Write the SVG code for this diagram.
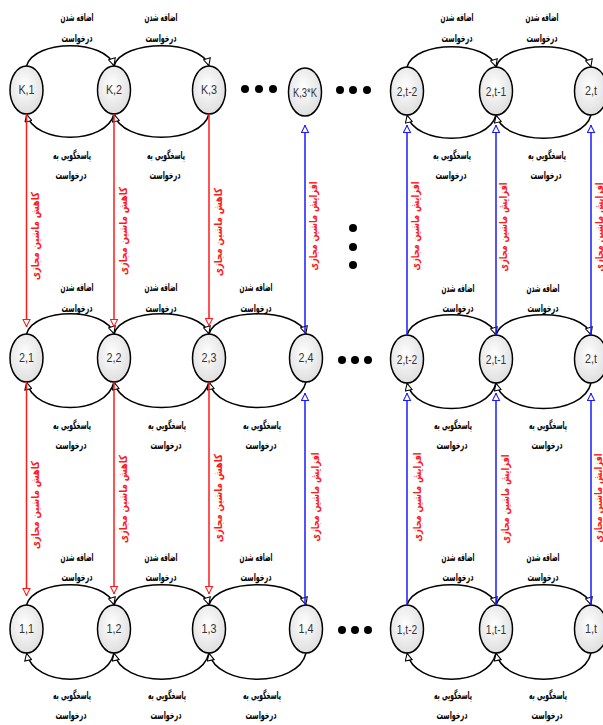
<svg xmlns="http://www.w3.org/2000/svg" width="603" height="725" viewBox="0 0 603 725">
<defs>
<radialGradient id="ng" cx="0.45" cy="0.4" r="0.65">
<stop offset="0" stop-color="#ffffff"/>
<stop offset="1" stop-color="#dcdcdc"/>
</radialGradient>
<marker id="ak" viewBox="0 0 10 10" refX="10" refY="5" markerWidth="10" markerHeight="8" orient="auto" markerUnits="userSpaceOnUse">
<path d="M0.6,0.6 L9.4,5 L0.6,9.4 z" fill="#fff" stroke="#000" stroke-width="1.3"/>
</marker>
<marker id="ar" viewBox="0 0 10 10" refX="10" refY="5" markerWidth="8" markerHeight="9" orient="auto" markerUnits="userSpaceOnUse">
<path d="M0.6,0.6 L9.4,5 L0.6,9.4 z" fill="#fff" stroke="#ff1a1a" stroke-width="1.3"/>
</marker>
<marker id="ab" viewBox="0 0 10 10" refX="10" refY="5" markerWidth="8" markerHeight="9" orient="auto" markerUnits="userSpaceOnUse">
<path d="M0.6,0.6 L9.4,5 L0.6,9.4 z" fill="#fff" stroke="#1a1aff" stroke-width="1.3"/>
</marker>
</defs>
<style>
.node ellipse{fill:url(#ng);stroke:#000;stroke-width:1.5}
.node text{font-family:"Liberation Sans",Arial,sans-serif;font-size:13.5px;fill:#333;text-anchor:middle;dominant-baseline:central}
.arc{fill:none;stroke:#000;stroke-width:1.5;marker-end:url(#ak)}
.red{fill:none;stroke:#ff1a1a;stroke-width:1.5;marker-end:url(#ar)}
.blue{fill:none;stroke:#1a1aff;stroke-width:1.5;marker-end:url(#ab)}
.lbl{font-family:"DejaVu Sans",sans-serif;font-weight:bold;font-size:11px;fill:#000;text-anchor:middle;dominant-baseline:central}
.vl{font-family:"DejaVu Sans",sans-serif;font-weight:bold;font-size:11px;fill:#ff1a1a;text-anchor:middle;dominant-baseline:central}
.dot{fill:#000}
</style>

<g id="nodes">
<g id="n-K1" class="node"><ellipse cx="26.5" cy="90" rx="16.5" ry="24"/><text transform="translate(26.5,90) scale(0.8,1)">K,1</text></g>
<g id="n-K2" class="node"><ellipse cx="114" cy="90" rx="16.5" ry="24"/><text transform="translate(114,90) scale(0.8,1)">K,2</text></g>
<g id="n-K3" class="node"><ellipse cx="209" cy="90" rx="16.5" ry="24"/><text transform="translate(209,90) scale(0.8,1)">K,3</text></g>
<g id="n-K3K" class="node"><ellipse cx="305" cy="92" rx="16.5" ry="24"/><text transform="translate(305,92) scale(0.7,1)">K,3*K</text></g>
<g id="n-top-t2" class="node"><ellipse cx="407" cy="91" rx="16.5" ry="24"/><text transform="translate(407,91) scale(0.76,1)">2,t-2</text></g>
<g id="n-top-t1" class="node"><ellipse cx="496" cy="91" rx="16.5" ry="24"/><text transform="translate(496,91) scale(0.76,1)">2,t-1</text></g>
<g id="n-top-t" class="node"><ellipse cx="591" cy="91" rx="16.5" ry="24"/><text transform="translate(591,91) scale(0.8,1)">2,t</text></g>

<g id="n-21" class="node"><ellipse cx="26.5" cy="358" rx="16.5" ry="24"/><text transform="translate(26.5,358) scale(0.8,1)">2,1</text></g>
<g id="n-22" class="node"><ellipse cx="114" cy="358" rx="16.5" ry="24"/><text transform="translate(114,358) scale(0.8,1)">2,2</text></g>
<g id="n-23" class="node"><ellipse cx="209" cy="358" rx="16.5" ry="24"/><text transform="translate(209,358) scale(0.8,1)">2,3</text></g>
<g id="n-24" class="node"><ellipse cx="306" cy="358" rx="16.5" ry="24"/><text transform="translate(306,358) scale(0.8,1)">2,4</text></g>
<g id="n-2t2" class="node"><ellipse cx="407" cy="359" rx="16.5" ry="24"/><text transform="translate(407,359) scale(0.76,1)">2,t-2</text></g>
<g id="n-2t1" class="node"><ellipse cx="496" cy="359" rx="16.5" ry="24"/><text transform="translate(496,359) scale(0.76,1)">2,t-1</text></g>
<g id="n-2t" class="node"><ellipse cx="591" cy="359" rx="16.5" ry="24"/><text transform="translate(591,359) scale(0.8,1)">2,t</text></g>

<g id="n-11" class="node"><ellipse cx="26.5" cy="629" rx="16.5" ry="24"/><text transform="translate(26.5,629) scale(0.8,1)">1,1</text></g>
<g id="n-12" class="node"><ellipse cx="114" cy="629" rx="16.5" ry="24"/><text transform="translate(114,629) scale(0.8,1)">1,2</text></g>
<g id="n-13" class="node"><ellipse cx="209" cy="629" rx="16.5" ry="24"/><text transform="translate(209,629) scale(0.8,1)">1,3</text></g>
<g id="n-14" class="node"><ellipse cx="306" cy="629" rx="16.5" ry="24"/><text transform="translate(306,629) scale(0.8,1)">1,4</text></g>
<g id="n-1t2" class="node"><ellipse cx="407" cy="629" rx="16.5" ry="24"/><text transform="translate(407,629) scale(0.76,1)">1,t-2</text></g>
<g id="n-1t1" class="node"><ellipse cx="496" cy="629" rx="16.5" ry="24"/><text transform="translate(496,629) scale(0.76,1)">1,t-1</text></g>
<g id="n-1t" class="node"><ellipse cx="591" cy="629" rx="16.5" ry="24"/><text transform="translate(591,629) scale(0.8,1)">1,t</text></g>
</g>

<g id="ellipsis">
<circle class="dot" cx="245" cy="89" r="4"/><circle class="dot" cx="259" cy="89" r="4"/><circle class="dot" cx="273" cy="89" r="4"/>
<circle class="dot" cx="340" cy="90" r="4"/><circle class="dot" cx="353" cy="90" r="4"/><circle class="dot" cx="367" cy="90" r="4"/>
<circle class="dot" cx="353" cy="228" r="4"/><circle class="dot" cx="353" cy="247" r="4"/><circle class="dot" cx="353" cy="265" r="4"/>
<circle class="dot" cx="342" cy="360" r="4"/><circle class="dot" cx="355" cy="360" r="4"/><circle class="dot" cx="368" cy="360" r="4"/>
<circle class="dot" cx="342" cy="630" r="4"/><circle class="dot" cx="355" cy="630" r="4"/><circle class="dot" cx="368" cy="630" r="4"/>
</g>

<g id="connectors">
<path class="arc" d="M26.5,66 C34.5,39 106,39 114,66"/>
<path class="arc" d="M114,66 C122,39 201,39 209,66"/>
<path class="arc" d="M114,114 C106,145 34.5,145 26.5,114"/>
<path class="arc" d="M209,114 C201,145 122,145 114,114"/>
<path class="arc" d="M407,67 C415,40 488,40 496,67"/>
<path class="arc" d="M496,67 C504,40 583,40 591,67"/>
<path class="arc" d="M496,115 C488,146 415,146 407,115"/>
<path class="arc" d="M591,115 C583,146 504,146 496,115"/>
<path class="arc" d="M26.5,334 C34.5,307 106,307 114,334"/>
<path class="arc" d="M114,334 C122,307 201,307 209,334"/>
<path class="arc" d="M209,334 C217,307 298,307 306,334"/>
<path class="arc" d="M114,382 C106,416 34.5,416 26.5,382"/>
<path class="arc" d="M209,382 C201,416 122,416 114,382"/>
<path class="arc" d="M306,382 C298,416 217,416 209,382"/>
<path class="arc" d="M407,335 C415,308 488,308 496,335"/>
<path class="arc" d="M496,335 C504,308 583,308 591,335"/>
<path class="arc" d="M496,383 C488,417 415,417 407,383"/>
<path class="arc" d="M591,383 C583,417 504,417 496,383"/>
<path class="arc" d="M26.5,605 C34.5,578 106,578 114,605"/>
<path class="arc" d="M114,605 C122,578 201,578 209,605"/>
<path class="arc" d="M209,605 C217,578 298,578 306,605"/>
<path class="arc" d="M114,653 C106,688 34.5,688 26.5,653"/>
<path class="arc" d="M209,653 C201,688 122,688 114,653"/>
<path class="arc" d="M306,653 C298,688 217,688 209,653"/>
<path class="arc" d="M407,605 C415,578 488,578 496,605"/>
<path class="arc" d="M496,605 C504,578 583,578 591,605"/>
<path class="arc" d="M496,653 C488,688 415,688 407,653"/>
<path class="arc" d="M591,653 C583,688 504,688 496,653"/>
<path class="red" d="M26.5,114 L26.5,327"/>
<path class="red" d="M114,114 L114,327"/>
<path class="red" d="M209,114 L209,326"/>
<path class="red" d="M26.5,382 L26.5,596"/>
<path class="red" d="M114,382 L114,594"/>
<path class="red" d="M209,382 L209,594"/>
<path class="blue" d="M305,334 L305,125"/>
<path class="blue" d="M407,335 L407,125"/>
<path class="blue" d="M496,335 L496,125"/>
<path class="blue" d="M591,335 L591,125"/>
<path class="blue" d="M305,605 L305,393"/>
<path class="blue" d="M407,605 L407,393"/>
<path class="blue" d="M496,605 L496,393"/>
<path class="blue" d="M591,605 L591,393"/>
</g>

<g id="edge-labels">
<text class="lbl" x="77" y="17" textLength="33" lengthAdjust="spacingAndGlyphs">اضافه شدن</text><text class="lbl" x="77" y="38" textLength="31" lengthAdjust="spacingAndGlyphs">درخواست</text>
<text class="lbl" x="161" y="17" textLength="33" lengthAdjust="spacingAndGlyphs">اضافه شدن</text><text class="lbl" x="161" y="38" textLength="31" lengthAdjust="spacingAndGlyphs">درخواست</text>
<text class="lbl" x="457" y="17" textLength="33" lengthAdjust="spacingAndGlyphs">اضافه شدن</text><text class="lbl" x="457" y="38" textLength="31" lengthAdjust="spacingAndGlyphs">درخواست</text>
<text class="lbl" x="542" y="17" textLength="33" lengthAdjust="spacingAndGlyphs">اضافه شدن</text><text class="lbl" x="542" y="38" textLength="31" lengthAdjust="spacingAndGlyphs">درخواست</text>
<text class="lbl" x="72" y="155" textLength="38" lengthAdjust="spacingAndGlyphs">پاسخگویی به</text><text class="lbl" x="71" y="175" textLength="31" lengthAdjust="spacingAndGlyphs">درخواست</text>
<text class="lbl" x="166" y="155" textLength="38" lengthAdjust="spacingAndGlyphs">پاسخگویی به</text><text class="lbl" x="165" y="175" textLength="31" lengthAdjust="spacingAndGlyphs">درخواست</text>
<text class="lbl" x="452" y="155" textLength="38" lengthAdjust="spacingAndGlyphs">پاسخگویی به</text><text class="lbl" x="451" y="175" textLength="31" lengthAdjust="spacingAndGlyphs">درخواست</text>
<text class="lbl" x="547" y="155" textLength="38" lengthAdjust="spacingAndGlyphs">پاسخگویی به</text><text class="lbl" x="546" y="175" textLength="31" lengthAdjust="spacingAndGlyphs">درخواست</text>
<text class="lbl" x="77" y="287" textLength="33" lengthAdjust="spacingAndGlyphs">اضافه شدن</text><text class="lbl" x="77" y="308" textLength="31" lengthAdjust="spacingAndGlyphs">درخواست</text>
<text class="lbl" x="161" y="287" textLength="33" lengthAdjust="spacingAndGlyphs">اضافه شدن</text><text class="lbl" x="161" y="308" textLength="31" lengthAdjust="spacingAndGlyphs">درخواست</text>
<text class="lbl" x="256" y="287" textLength="33" lengthAdjust="spacingAndGlyphs">اضافه شدن</text><text class="lbl" x="256" y="308" textLength="31" lengthAdjust="spacingAndGlyphs">درخواست</text>
<text class="lbl" x="458" y="288" textLength="33" lengthAdjust="spacingAndGlyphs">اضافه شدن</text><text class="lbl" x="458" y="308" textLength="31" lengthAdjust="spacingAndGlyphs">درخواست</text>
<text class="lbl" x="543" y="288" textLength="33" lengthAdjust="spacingAndGlyphs">اضافه شدن</text><text class="lbl" x="543" y="308" textLength="31" lengthAdjust="spacingAndGlyphs">درخواست</text>
<text class="lbl" x="72" y="425" textLength="38" lengthAdjust="spacingAndGlyphs">پاسخگویی به</text><text class="lbl" x="71" y="445" textLength="31" lengthAdjust="spacingAndGlyphs">درخواست</text>
<text class="lbl" x="167" y="425" textLength="38" lengthAdjust="spacingAndGlyphs">پاسخگویی به</text><text class="lbl" x="166" y="445" textLength="31" lengthAdjust="spacingAndGlyphs">درخواست</text>
<text class="lbl" x="262" y="425" textLength="38" lengthAdjust="spacingAndGlyphs">پاسخگویی به</text><text class="lbl" x="261" y="445" textLength="31" lengthAdjust="spacingAndGlyphs">درخواست</text>
<text class="lbl" x="453" y="425" textLength="38" lengthAdjust="spacingAndGlyphs">پاسخگویی به</text><text class="lbl" x="452" y="445" textLength="31" lengthAdjust="spacingAndGlyphs">درخواست</text>
<text class="lbl" x="548" y="425" textLength="38" lengthAdjust="spacingAndGlyphs">پاسخگویی به</text><text class="lbl" x="547" y="445" textLength="31" lengthAdjust="spacingAndGlyphs">درخواست</text>
<text class="lbl" x="77" y="557" textLength="33" lengthAdjust="spacingAndGlyphs">اضافه شدن</text><text class="lbl" x="77" y="577" textLength="31" lengthAdjust="spacingAndGlyphs">درخواست</text>
<text class="lbl" x="161" y="557" textLength="33" lengthAdjust="spacingAndGlyphs">اضافه شدن</text><text class="lbl" x="161" y="577" textLength="31" lengthAdjust="spacingAndGlyphs">درخواست</text>
<text class="lbl" x="256" y="557" textLength="33" lengthAdjust="spacingAndGlyphs">اضافه شدن</text><text class="lbl" x="256" y="577" textLength="31" lengthAdjust="spacingAndGlyphs">درخواست</text>
<text class="lbl" x="458" y="557" textLength="33" lengthAdjust="spacingAndGlyphs">اضافه شدن</text><text class="lbl" x="458" y="577" textLength="31" lengthAdjust="spacingAndGlyphs">درخواست</text>
<text class="lbl" x="543" y="557" textLength="33" lengthAdjust="spacingAndGlyphs">اضافه شدن</text><text class="lbl" x="543" y="577" textLength="31" lengthAdjust="spacingAndGlyphs">درخواست</text>
<text class="lbl" x="72" y="695" textLength="38" lengthAdjust="spacingAndGlyphs">پاسخگویی به</text><text class="lbl" x="71" y="715" textLength="31" lengthAdjust="spacingAndGlyphs">درخواست</text>
<text class="lbl" x="167" y="695" textLength="38" lengthAdjust="spacingAndGlyphs">پاسخگویی به</text><text class="lbl" x="166" y="715" textLength="31" lengthAdjust="spacingAndGlyphs">درخواست</text>
<text class="lbl" x="262" y="695" textLength="38" lengthAdjust="spacingAndGlyphs">پاسخگویی به</text><text class="lbl" x="261" y="715" textLength="31" lengthAdjust="spacingAndGlyphs">درخواست</text>
<text class="lbl" x="453" y="695" textLength="38" lengthAdjust="spacingAndGlyphs">پاسخگویی به</text><text class="lbl" x="452" y="715" textLength="31" lengthAdjust="spacingAndGlyphs">درخواست</text>
<text class="lbl" x="548" y="695" textLength="38" lengthAdjust="spacingAndGlyphs">پاسخگویی به</text><text class="lbl" x="547" y="715" textLength="31" lengthAdjust="spacingAndGlyphs">درخواست</text>
</g>

<g id="line-labels">
<text class="vl" transform="translate(35,236) rotate(-90)" textLength="88" lengthAdjust="spacingAndGlyphs">کاهش ماشین مجازی</text>
<text class="vl" transform="translate(123,231) rotate(-90)" textLength="88" lengthAdjust="spacingAndGlyphs">کاهش ماشین مجازی</text>
<text class="vl" transform="translate(218,232) rotate(-90)" textLength="88" lengthAdjust="spacingAndGlyphs">کاهش ماشین مجازی</text>
<text class="vl" transform="translate(35,505) rotate(-90)" textLength="88" lengthAdjust="spacingAndGlyphs">کاهش ماشین مجازی</text>
<text class="vl" transform="translate(123,499) rotate(-90)" textLength="88" lengthAdjust="spacingAndGlyphs">کاهش ماشین مجازی</text>
<text class="vl" transform="translate(218,498) rotate(-90)" textLength="88" lengthAdjust="spacingAndGlyphs">کاهش ماشین مجازی</text>
<text class="vl" transform="translate(313,226) rotate(-90)" textLength="89" lengthAdjust="spacingAndGlyphs">افزایش ماشین مجازی</text>
<text class="vl" transform="translate(415,226) rotate(-90)" textLength="89" lengthAdjust="spacingAndGlyphs">افزایش ماشین مجازی</text>
<text class="vl" transform="translate(503,227) rotate(-90)" textLength="89" lengthAdjust="spacingAndGlyphs">افزایش ماشین مجازی</text>
<text class="vl" transform="translate(599,227) rotate(-90)" textLength="89" lengthAdjust="spacingAndGlyphs">افزایش ماشین مجازی</text>
<text class="vl" transform="translate(315,497) rotate(-90)" textLength="89" lengthAdjust="spacingAndGlyphs">افزایش ماشین مجازی</text>
<text class="vl" transform="translate(417,497) rotate(-90)" textLength="89" lengthAdjust="spacingAndGlyphs">افزایش ماشین مجازی</text>
<text class="vl" transform="translate(505,499) rotate(-90)" textLength="89" lengthAdjust="spacingAndGlyphs">افزایش ماشین مجازی</text>
<text class="vl" transform="translate(598,498) rotate(-90)" textLength="89" lengthAdjust="spacingAndGlyphs">افزایش ماشین مجازی</text>
</g>
</svg>
